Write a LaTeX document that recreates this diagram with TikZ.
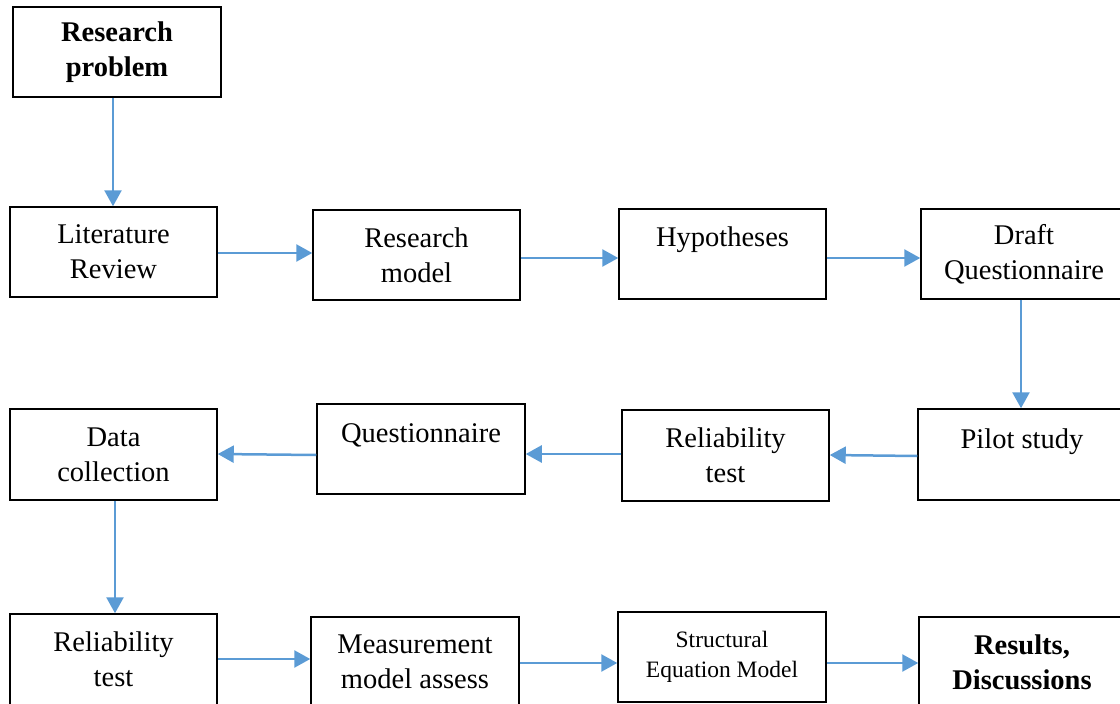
\documentclass[tikz,border=0pt]{standalone}
\usepackage{fontspec}
\setmainfont{Liberation Serif}
\usetikzlibrary{arrows.meta}
\definecolor{arrblue}{HTML}{5B9BD5}
\tikzset{
  box/.style={draw=black, line width=1.5pt, minimum width=207pt, minimum height=90pt, inner sep=0pt, align=center, font=\fontsize{28.5}{35}\selectfont},
  txt/.style={inner sep=0pt, align=center, font=\fontsize{28.5}{35}\selectfont},
  bbox/.style={box, font=\fontsize{28.5}{35}\selectfont\bfseries},
  small/.style={box, font=\fontsize{23.5}{30}\selectfont},
  arr/.style={draw=arrblue, line width=2.5pt, -{Triangle[length=16pt,width=17pt]}}
}
\begin{document}
\begin{tikzpicture}[x=1pt,y=-1pt]
\useasboundingbox (0,0) rectangle (1120,704);
% row 1
\node[bbox, minimum width=208pt] (rp) at (117,52) {Research\\problem};
% row 2
\node[box] (lit) at (113.5,252) {Literature\\Review};
\node[box] (rm) at (416.5,255) {Research\\model};
\node[box] (hyp) at (722.5,254) {};
\node[txt] (hypt) at (722.5,240) {Hypotheses};
\node[box, minimum width=206pt] (dq) at (1024,254) {Draft\\Questionnaire};
% row 3
\node[box, minimum width=206pt, minimum height=91pt] (ps) at (1021,454.5) {};
\node[txt] (pst) at (1022,442) {Pilot study};
\node[box, minimum height=91pt] (rt1) at (725.5,455.5) {Reliability\\test};
\node[box, minimum width=208pt] (q) at (421,449) {};
\node[txt] (qt) at (421,435) {Questionnaire};
\node[box, minimum height=91pt] (dc) at (113.5,454.5) {Data\\collection};
% row 4
\node[box, minimum height=91pt] (rt2) at (113.5,659.5) {Reliability\\test};
\node[box, minimum width=208pt] (mm) at (415,662) {Measurement\\model assess};
\node[small, minimum width=208pt] (sem) at (722,657) {Structural\\Equation Model};
\node[bbox, minimum width=206pt] (res) at (1022,662) {Results,\\Discussions};
% arrows
\draw[arr] (rp.south -| 113,0) -- (lit.north -| 113,0);
\draw[arr] (lit.east |- 0,253) -- (rm.west |- 0,253);
\draw[arr] (rm.east |- 0,258) -- (hyp.west |- 0,258);
\draw[arr] (hyp.east |- 0,258) -- (dq.west |- 0,258);
\draw[arr] (dq.south -| 1021,0) -- (ps.north -| 1021,0);
\draw[arr] (ps.west |- 0,456) -- (rt1.east |- 0,455);
\draw[arr] (rt1.west |- 0,454) -- (q.east |- 0,454);
\draw[arr] (q.west |- 0,455) -- (dc.east |- 0,454);
\draw[arr] (dc.south -| 115,0) -- (rt2.north -| 115,0);
\draw[arr] (rt2.east |- 0,659) -- (mm.west |- 0,659);
\draw[arr] (mm.east |- 0,663) -- (sem.west |- 0,663);
\draw[arr] (sem.east |- 0,663) -- (res.west |- 0,663);
\end{tikzpicture}
\end{document}
